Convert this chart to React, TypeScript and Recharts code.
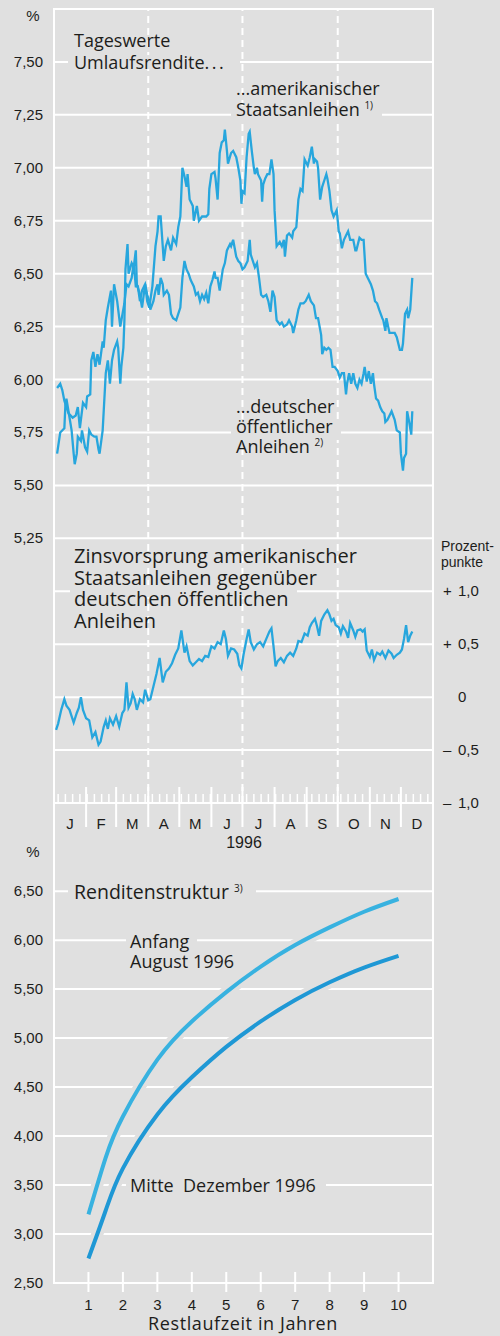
import React from "react"
import { LineChart, Line, XAxis, YAxis, CartesianGrid, ReferenceLine } from "recharts"

const BG = "#e0e0e0"
const INK = "#1d1d1b"
const BLUE = "#27a6dd"
const TICK_FONT = "'Liberation Sans', Arial, sans-serif"
const TEXT_FONT = "'Open Sans', 'DejaVu Sans', sans-serif"

// x axis of the daily panels: day of year 1996 (0 = 1 January)
const monthLetters = ["J", "F", "M", "A", "M", "J", "J", "A", "S", "O", "N", "D"]
const monthLengths = [31, 29, 31, 30, 31, 30, 31, 31, 30, 31, 30, 31]
const quarterDays = [91, 182, 274]

// daily yields, [day, %]
const usTreasury: [number, number][] = [
  [3, 5.65], [6, 5.75], [10, 5.77], [11, 5.88], [12, 5.91], [14, 5.85], [17, 5.76], [19, 5.65], [20, 5.6], [22, 5.65],
  [23, 5.73], [26, 5.71], [27, 5.76], [30, 5.68], [32, 5.66], [34, 5.76], [36, 5.74], [39, 5.73], [41, 5.73], [43, 5.67],
  [44, 5.65], [47, 5.76], [48, 5.85], [50, 6.03], [52, 6.09], [53, 6.04], [54, 5.98], [56, 6.09], [58, 6.14], [61, 6.18],
  [62, 6.15], [64, 5.98], [65, 6.06], [67, 6.15], [68, 6.28], [69, 6.52], [71, 6.64], [72, 6.5], [75, 6.55], [77, 6.53],
  [79, 6.61], [80, 6.45], [83, 6.4], [85, 6.34], [88, 6.45], [90, 6.37], [92, 6.34], [95, 6.44], [98, 6.63], [100, 6.7],
  [101, 6.77], [103, 6.77], [106, 6.56], [108, 6.63], [110, 6.66], [113, 6.61], [115, 6.67], [118, 6.64], [120, 6.72], [122, 6.77],
  [124, 7.0], [126, 6.96], [128, 6.91], [129, 6.97], [131, 6.85], [134, 6.82], [135, 6.75], [138, 6.82], [140, 6.75], [143, 6.77],
  [147, 6.77], [149, 6.78], [150, 6.9], [152, 6.97], [155, 6.98], [156, 6.95], [158, 6.85], [160, 7.07], [162, 7.12], [164, 7.13],
  [165, 7.18], [167, 7.08], [168, 7.02], [171, 7.07], [173, 7.08], [176, 7.05], [178, 7.0], [180, 6.94], [181, 6.83], [182, 6.89],
  [184, 6.88], [186, 7.05], [188, 7.16], [189, 7.17], [191, 7.08], [193, 7.0], [194, 6.97], [196, 7.0], [197, 6.97], [200, 6.94],
  [201, 6.84], [202, 6.92], [204, 6.95], [206, 6.97], [208, 6.97], [210, 7.04], [212, 6.97], [213, 6.8], [215, 6.63], [218, 6.65],
  [220, 6.63], [222, 6.66], [223, 6.58], [225, 6.68], [227, 6.69], [230, 6.67], [231, 6.7], [234, 6.72], [236, 6.85], [238, 6.9],
  [240, 6.89], [242, 7.04], [245, 7.01], [247, 7.05], [249, 7.1], [251, 7.02], [252, 7.04], [254, 7.03], [255, 7.0], [257, 6.85],
  [259, 6.91], [261, 6.94], [263, 6.97], [264, 6.95], [266, 6.89], [268, 6.8], [270, 6.77], [271, 6.78], [273, 6.8], [275, 6.7],
  [276, 6.69], [278, 6.62], [280, 6.66], [282, 6.68], [284, 6.7], [286, 6.66], [289, 6.66], [291, 6.61], [292, 6.61], [295, 6.67],
  [297, 6.66], [299, 6.66], [301, 6.5], [304, 6.47], [306, 6.45], [308, 6.42], [310, 6.37], [312, 6.36], [314, 6.33], [317, 6.29],
  [318, 6.28], [320, 6.23], [321, 6.29], [324, 6.22], [326, 6.22], [329, 6.22], [331, 6.2], [334, 6.14], [336, 6.14], [337, 6.17],
  [339, 6.31], [341, 6.33], [342, 6.29], [344, 6.33], [346, 6.48],
]

const germanBonds: [number, number][] = [
  [3, 5.96], [6, 5.98], [8, 5.95], [10, 5.9], [14, 5.84], [18, 5.82], [21, 5.83], [23, 5.87], [25, 5.77], [28, 5.89],
  [31, 5.87], [32, 5.92], [35, 5.93], [36, 6.09], [38, 6.13], [40, 6.06], [42, 6.12], [44, 6.07], [47, 6.18], [48, 6.15],
  [50, 6.28], [52, 6.34], [55, 6.42], [56, 6.25], [58, 6.45], [61, 6.37], [63, 6.29], [64, 6.25], [68, 6.36], [70, 6.45],
  [72, 6.44], [75, 6.48], [77, 6.55], [79, 6.44], [81, 6.44], [83, 6.37], [85, 6.42], [88, 6.45], [90, 6.4], [92, 6.37],
  [93, 6.33], [96, 6.37], [98, 6.42], [100, 6.45], [101, 6.4], [103, 6.48], [105, 6.45], [106, 6.4], [109, 6.42], [111, 6.4],
  [113, 6.31], [115, 6.29], [118, 6.28], [120, 6.31], [122, 6.34], [124, 6.48], [126, 6.56], [128, 6.52], [130, 6.5], [132, 6.47],
  [135, 6.44], [137, 6.4], [139, 6.41], [141, 6.37], [143, 6.4], [145, 6.38], [147, 6.41], [149, 6.36], [151, 6.44], [153, 6.47],
  [155, 6.51], [156, 6.48], [158, 6.48], [160, 6.42], [163, 6.52], [165, 6.55], [167, 6.61], [170, 6.64], [171, 6.63], [173, 6.66],
  [176, 6.58], [178, 6.56], [180, 6.55], [182, 6.52], [184, 6.53], [187, 6.56], [189, 6.66], [190, 6.59], [192, 6.56], [194, 6.53],
  [196, 6.55], [198, 6.48], [200, 6.4], [202, 6.39], [205, 6.4], [207, 6.37], [209, 6.32], [211, 6.42], [213, 6.39], [215, 6.28],
  [218, 6.26], [220, 6.27], [222, 6.25], [225, 6.26], [227, 6.28], [230, 6.25], [231, 6.22], [234, 6.28], [236, 6.33], [238, 6.36],
  [241, 6.36], [243, 6.37], [246, 6.4], [248, 6.37], [251, 6.35], [253, 6.29], [255, 6.29], [258, 6.21], [259, 6.12], [261, 6.15],
  [263, 6.14], [265, 6.15], [267, 6.14], [269, 6.06], [271, 6.06], [274, 6.04], [276, 6.01], [278, 6.03], [280, 6.03], [282, 5.93],
  [283, 5.98], [285, 6.03], [287, 5.98], [289, 6.03], [291, 5.98], [293, 5.96], [295, 6.0], [297, 5.98], [299, 6.03], [300, 6.06],
  [302, 5.99], [304, 6.04], [306, 5.98], [308, 6.03], [309, 5.98], [311, 5.91], [313, 5.9], [315, 5.87], [317, 5.85], [319, 5.84],
  [320, 5.8], [322, 5.81], [325, 5.84], [326, 5.85], [329, 5.81], [331, 5.76], [334, 5.75], [335, 5.65], [337, 5.57], [338, 5.63],
  [340, 5.65], [341, 5.85], [343, 5.8], [345, 5.74], [346, 5.85],
]

// yield advantage US over German bonds, [day, percentage points]
const yieldSpread: [number, number][] = [
  [2, -0.31], [4, -0.25], [7, -0.12], [10, -0.02], [12, -0.08], [15, -0.12], [19, -0.24], [22, -0.15], [24, -0.1], [26, 0.0],
  [28, -0.12], [31, -0.2], [34, -0.22], [37, -0.38], [40, -0.33], [43, -0.45], [45, -0.42], [48, -0.28], [50, -0.22], [52, -0.3],
  [54, -0.2], [57, -0.26], [60, -0.18], [63, -0.28], [66, -0.15], [68, -0.12], [70, 0.14], [72, -0.1], [74, -0.06], [76, 0.03],
  [78, -0.02], [80, -0.12], [83, -0.02], [86, -0.05], [88, 0.07], [91, -0.03], [93, -0.02], [96, 0.1], [99, 0.22], [102, 0.37],
  [105, 0.14], [108, 0.24], [111, 0.27], [114, 0.32], [117, 0.4], [120, 0.46], [123, 0.63], [126, 0.42], [128, 0.48], [131, 0.34],
  [134, 0.3], [137, 0.33], [140, 0.36], [143, 0.34], [146, 0.39], [149, 0.38], [152, 0.48], [155, 0.46], [158, 0.52], [161, 0.5],
  [164, 0.63], [166, 0.55], [168, 0.39], [171, 0.46], [174, 0.45], [177, 0.41], [179, 0.3], [181, 0.27], [183, 0.4], [186, 0.55],
  [188, 0.64], [190, 0.52], [193, 0.45], [196, 0.5], [199, 0.52], [202, 0.48], [205, 0.55], [208, 0.62], [210, 0.65], [212, 0.48],
  [214, 0.29], [216, 0.34], [219, 0.37], [222, 0.33], [225, 0.39], [228, 0.42], [231, 0.39], [234, 0.46], [236, 0.53], [239, 0.52],
  [242, 0.6], [245, 0.58], [247, 0.66], [249, 0.7], [252, 0.74], [254, 0.67], [256, 0.58], [258, 0.72], [261, 0.78], [264, 0.82],
  [266, 0.78], [268, 0.72], [270, 0.74], [272, 0.68], [275, 0.66], [277, 0.6], [279, 0.67], [282, 0.62], [284, 0.56], [286, 0.7],
  [289, 0.63], [291, 0.57], [293, 0.63], [296, 0.64], [298, 0.62], [300, 0.64], [302, 0.44], [305, 0.38], [307, 0.45], [309, 0.35],
  [312, 0.42], [315, 0.4], [317, 0.43], [320, 0.37], [323, 0.44], [326, 0.41], [328, 0.37], [331, 0.4], [334, 0.42], [336, 0.45],
  [338, 0.55], [340, 0.68], [342, 0.52], [344, 0.58], [346, 0.62],
]

const yieldTicks = [5.25, 5.5, 5.75, 6.0, 6.25, 6.5, 6.75, 7.0, 7.25, 7.5]
const spreadTicks = [-1, -0.5, 0, 0.5, 1]

// yield curve (Renditenstruktur)
const maturities = [1, 1.5, 2, 3, 4, 5, 6, 7, 8, 9, 10]
const curveAugust = [3.2, 3.78, 4.2, 4.78, 5.17, 5.47, 5.73, 5.95, 6.13, 6.29, 6.42]
const curveDecember = [2.75, 3.24, 3.67, 4.22, 4.6, 4.91, 5.17, 5.39, 5.57, 5.72, 5.84]
const maturityTicks = [1, 2, 3, 4, 5, 6, 7, 8, 9, 10]
const curveTicks = [2.5, 3.0, 3.5, 4.0, 4.5, 5.0, 5.5, 6.0, 6.5]

const toPoints = (rows: [number, number][]) => rows.map(([d, v]) => ({ d, v }))
const usData = toPoints(usTreasury)
const deData = toPoints(germanBonds)
const spreadData = toPoints(yieldSpread)
const curveData = maturities.map((m, i) => ({ m, aug: curveAugust[i], dec: curveDecember[i] }))

const monthStarts: number[] = []
const monthMids: number[] = []
monthLengths.reduce((start, len) => {
  monthStarts.push(start)
  monthMids.push(start + len / 2)
  return start + len
}, 0)
const weekTicks: number[] = []
for (let d = 4; d < 366; d += 7) {
  if (!monthStarts.some((s) => Math.abs(s - d) < 1)) weekTicks.push(d)
}
const dayTicks = [...weekTicks, ...monthStarts.slice(1), ...monthMids].sort((a, b) => a - b)

const comma = (v: number, digits: number) => v.toFixed(digits).replace(".", ",")

const LeftTick = (props: any) => {
  const { x, y, payload } = props
  return (
    <text x={x} y={y} dy={5} textAnchor="end" fontSize={15} fontFamily={TICK_FONT} fill={INK}>
      {comma(payload.value, 2)}
    </text>
  )
}

const RightTick = (props: any) => {
  const { x, y, payload } = props
  const v = payload.value as number
  const sign = v > 0 ? "+" : v < 0 ? "–" : ""
  return (
    <g fontSize={15} fontFamily={TICK_FONT} fill={INK}>
      <text x={x} y={y} dy={5}>{sign}</text>
      <text x={x + 15} y={y} dy={5}>{v === 0 ? "0" : comma(Math.abs(v), 1)}</text>
    </g>
  )
}

const DayTick = (props: any) => {
  const { x, y, payload } = props
  const v = payload.value as number
  const mid = monthMids.indexOf(v)
  if (mid >= 0) {
    return (
      <text x={x} y={y + 26} textAnchor="middle" fontSize={15} fontFamily={TICK_FONT} fill={INK}>
        {monthLetters[mid]}
      </text>
    )
  }
  if (monthStarts.includes(v)) {
    return <line x1={x} x2={x} y1={y - 16} y2={y + 24} stroke="#fff" strokeWidth={2} />
  }
  return <line x1={x} x2={x} y1={y - 9} y2={y} stroke="#fff" strokeWidth={1.5} />
}

const MaturityTick = (props: any) => {
  const { x, y, payload } = props
  return (
    <g>
      <line x1={x} x2={x} y1={y - 11} y2={y + 9} stroke="#fff" strokeWidth={2} />
      <text x={x} y={y + 27} textAnchor="middle" fontSize={15} fontFamily={TICK_FONT} fill={INK}>
        {payload.value}
      </text>
    </g>
  )
}

const Knockout = ({ x, y, w, h }: { x: number; y: number; w: number; h: number }) => (
  <rect x={x} y={y} width={w} height={h} fill={BG} />
)

export default function App() {
  return (
    <div style={{ position: "absolute", left: 0, top: 0, width: 500, height: 1336, background: BG, overflow: "hidden" }}>
      <div style={{ position: "absolute", left: 0, top: 0 }}>
        <LineChart width={500} height={860} margin={{ top: 9, right: 7, bottom: 17, left: 8 }}>
          <CartesianGrid vertical={false} stroke="#fff" strokeWidth={2} />
          <CartesianGrid vertical={false} yAxisId="r" stroke="#fff" strokeWidth={2} />
          <XAxis
            type="number"
            dataKey="d"
            domain={[0, 366]}
            ticks={dayTicks}
            interval={0}
            tick={<DayTick />}
            tickLine={false}
            axisLine={false}
            tickSize={0}
            tickMargin={0}
            height={40}
            allowDataOverflow
          />
          <YAxis
            type="number"
            domain={[4, 7.75]}
            ticks={yieldTicks}
            interval={0}
            tick={<LeftTick />}
            axisLine={false}
            tickLine={false}
            tickSize={0}
            tickMargin={11}
            width={46}
            allowDataOverflow
          />
          <YAxis
            yAxisId="r"
            orientation="right"
            type="number"
            domain={[-1, 6.5]}
            ticks={spreadTicks}
            interval={0}
            tick={<RightTick />}
            axisLine={false}
            tickLine={false}
            tickSize={0}
            tickMargin={10}
            width={60}
            allowDataOverflow
          />
          {quarterDays.map((q) => (
            <ReferenceLine key={q} x={q} stroke="#fff" strokeWidth={2} strokeDasharray="7 5" />
          ))}
          <Line data={usData} dataKey="v" type="linear" stroke={BLUE} strokeWidth={2.3} dot={false} isAnimationActive={false} />
          <Line data={deData} dataKey="v" type="linear" stroke={BLUE} strokeWidth={2.3} dot={false} isAnimationActive={false} />
          <Line
            data={spreadData}
            dataKey="v"
            yAxisId="r"
            type="linear"
            stroke={BLUE}
            strokeWidth={2.3}
            dot={false}
            isAnimationActive={false}
          />
        </LineChart>
      </div>

      <div style={{ position: "absolute", left: 0, top: 795 }}>
        <LineChart width={500} height={541} data={curveData} margin={{ top: 8, right: 67, bottom: 3, left: 8 }}>
          <CartesianGrid vertical={false} stroke="#fff" strokeWidth={2} />
          <XAxis
            type="number"
            dataKey="m"
            domain={[0, 11]}
            ticks={maturityTicks}
            interval={0}
            tick={<MaturityTick />}
            tickLine={false}
            axisLine={false}
            tickSize={0}
            tickMargin={0}
            height={50}
          />
          <YAxis
            type="number"
            domain={[2.5, 7.4]}
            ticks={curveTicks}
            interval={0}
            tick={<LeftTick />}
            axisLine={false}
            tickLine={false}
            tickSize={0}
            tickMargin={11}
            width={46}
          />
          <Line dataKey="aug" type="natural" stroke={BG} strokeWidth={12} dot={false} isAnimationActive={false} />
          <Line dataKey="aug" type="natural" stroke="#38b2e0" strokeWidth={4} dot={false} isAnimationActive={false} />
          <Line dataKey="dec" type="natural" stroke={BG} strokeWidth={12} dot={false} isAnimationActive={false} />
          <Line dataKey="dec" type="natural" stroke="#1f98d5" strokeWidth={4} dot={false} isAnimationActive={false} />
        </LineChart>
      </div>

      <svg width={500} height={1336} style={{ position: "absolute", left: 0, top: 0, pointerEvents: "none" }}>
        <Knockout x={68} y={55} w={172} h={14} />
        <Knockout x={231} y={106} w={151} h={16} />
        <Knockout x={231} y={422} w={110} h={18} />
        <Knockout x={70} y={585} w={227} h={12} />
        <Knockout x={68} y={884} w={188} h={16} />
        <Knockout x={126} y={934} w={71} h={16} />
        <Knockout x={126} y={1177} w={200} h={18} />

        <g stroke="#fff" strokeWidth={2} fill="none">
          <line x1={53} x2={434} y1={9} y2={9} />
          <line x1={54} x2={54} y1={8} y2={1284} />
          <line x1={433} x2={433} y1={8} y2={1284} />
          <line x1={53} x2={434} y1={803} y2={803} />
          <line x1={53} x2={434} y1={1283} y2={1283} />
        </g>

        <g fontFamily={TICK_FONT} fontSize={15} fill={INK}>
          <text x={33} y={21} textAnchor="middle">%</text>
          <text x={33} y={857} textAnchor="middle">%</text>
          <text x={441} y={551} fontSize={14}>
            Prozent-
            <tspan x={441} dy={16}>punkte</tspan>
          </text>
          <text x={244} y={848} textAnchor="middle" fontSize={16}>1996</text>
        </g>

        <g fontFamily={TEXT_FONT} fontSize={18} fill={INK}>
          <text x={74} y={47}>
            Tageswerte
            <tspan x={74} dy={22}>Umlaufsrendite</tspan>
            <tspan letterSpacing={2.5}>...</tspan>
          </text>
          <text x={236} y={95}>
            ...amerikanischer
            <tspan x={236} dy={21}>Staatsanleihen </tspan>
            <tspan fontSize={10} dy={-7}>1)</tspan>
          </text>
          <text x={236} y={413}>
            ...deutscher
            <tspan x={236} dy={20}>öffentlicher</tspan>
            <tspan x={236} dy={20}>Anleihen </tspan>
            <tspan fontSize={10} dy={-7}>2)</tspan>
          </text>
          <text x={74} y={563} fontSize={20}>
            Zinsvorsprung amerikanischer
            <tspan x={74} dy={22}>Staatsanleihen gegenüber</tspan>
            <tspan x={74} dy={21}>deutschen öffentlichen</tspan>
            <tspan x={74} dy={22}>Anleihen</tspan>
          </text>
          <text x={74} y={899} fontSize={19.5}>
            Renditenstruktur <tspan fontSize={10} dy={-7}>3)</tspan>
          </text>
          <text x={130} y={948}>
            Anfang
            <tspan x={130} dy={20}>August 1996</tspan>
          </text>
          <text x={130} y={1192}>{"Mitte\u00a0 Dezember 1996"}</text>
          <text x={243} y={1330} textAnchor="middle" fontSize={18} letterSpacing={0.6}>Restlaufzeit in Jahren</text>
        </g>
      </svg>
    </div>
  )
}
